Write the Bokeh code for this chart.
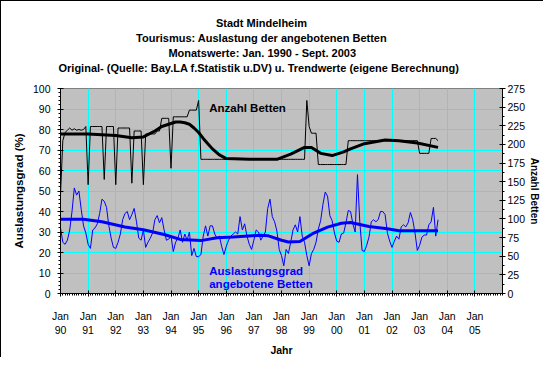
from bokeh.plotting import figure
from bokeh.models import Range1d, LinearAxis, FixedTicker, Label, Title
from bokeh.embed import file_html
from bokeh.resources import INLINE

# ---- data (months since Jan 1990) ----
ausl_1990 = [32, 25, 24, 26, 31, 40, 51.5, 48, 50, 41, 33, 29.5]
ausl_1991 = [24, 22, 31, 32, 34, 39, 46, 45, 42, 33, 27, 22.5]
ausl_1992 = [22, 25, 29, 36, 39, 40, 36, 38.5, 41.5, 35, 27, 26]
ausl_1993 = [31, 22.5, 25, 27, 29.5, 36, 38, 34.5, 37, 31, 26, 26.5]
ausl_1994 = [28, 20.5, 25, 27, 31, 25, 29, 26, 30, 18.5, 22, 18]
ausl_1995 = [18, 19, 28, 33, 28, 33, 33, 29, 27, 28, 23, 19]
ausl_1996 = [23, 26, 28, 29, 30, 29, 37.5, 31, 34, 28, 24, 21.5]
ausl_1997 = [26, 31, 30, 26, 28, 30, 41.5, 46, 37.5, 35, 30.5, 21.5]
ausl_1998 = [18.5, 13.5, 21.5, 19.5, 25, 31, 33.5, 30, 37.5, 28, 25, 18.5]
ausl_1999 = [13.5, 19.5, 21.5, 25, 31.5, 35.5, 43.5, 49.5, 47.5, 38, 35.5, 29.5]
ausl_2000 = [25.5, 25, 29, 29.5, 34.5, 40.5, 40, 34, 30, 58, 35, 21]
ausl_2001 = [20.5, 23.5, 27.5, 35, 36, 35, 36, 40, 40, 38.5, 29.5, 25.5]
ausl_2002 = [22.5, 25.5, 28, 26.5, 32.5, 33.5, 32.5, 34.5, 39.5, 36, 29.5, 21]
ausl_2003 = [23.5, 27.5, 28.5, 28.5, 33.5, 35, 42, 28, 36]

betten_1990 = [133, 205, 216, 219, 222, 219, 221, 219, 220, 219, 220, 224]
betten_1991 = [146, 224, 224, 224, 224, 224, 224, 153, 224, 224, 224, 224]
betten_1992 = [146, 222, 222, 222, 222, 222, 222, 148, 218, 218, 218, 218]
betten_1993 = [146, 214, 214, 214, 214, 214, 218, 218, 235, 235, 235, 235]
betten_1994 = [168, 237, 237, 237, 237, 237, 237, 237, 246, 246, 246, 246]
betten_1995 = [259, 180, 180, 180, 180, 180, 180, 180, 180, 180, 180, 180]
betten_1996 = [180, 180, 180, 180, 180, 180, 180, 180, 180, 180, 180, 180]
betten_1997 = [180, 180, 180, 180, 180, 180, 180, 180, 180, 180, 180, 180]
betten_1998 = [180, 180, 180, 180, 180, 180, 180, 180, 180, 180, 180, 259]
betten_1999 = [224, 215, 215, 215, 173, 173, 173, 173, 173, 173, 173, 173]
betten_2000 = [173, 173, 173, 173, 173, 205, 205, 205, 205, 205, 205, 205]
betten_2001 = [205, 205, 205, 205, 205, 205, 205, 205, 205, 205, 205, 205]
betten_2002 = [205, 205, 205, 205, 205, 205, 205, 205, 205, 205, 205, 205]
betten_2003 = [188, 188, 188, 188, 188, 208, 208, 208, 205]

ausl_trend_month = [0, 10, 18, 28, 36, 45, 52, 61, 68, 75, 87, 90, 96, 99, 104,
                    110, 116, 122, 126, 134, 142, 147, 164]
ausl_trend_value = [36.2, 36.2, 35, 32.4, 31.1, 28.8, 26.4, 25.8, 27.2, 27.6, 28.4,
                    28.2, 26, 25.1, 25.4, 29.5, 32.4, 34.3, 34.6, 32.7, 31.6, 30.6, 30.6]

betten_trend_month = [0, 12, 24, 31, 36, 41, 44, 47, 50, 52, 54, 56, 58, 60, 62, 64,
                      66, 69, 72, 82, 94, 100, 106, 109, 113, 118, 123, 126, 132,
                      141, 147, 155, 164]
betten_trend_value = [214, 214, 212, 209, 210, 218, 224, 227, 230, 230, 229, 227, 222,
                      216, 208, 201, 194, 186, 181, 180, 180, 187, 196, 196, 188, 185,
                      190, 194, 201, 206, 205, 202, 196]

year_labels = ["90", "91", "92", "93", "94", "95", "96", "97", "98", "99",
               "00", "01", "02", "03", "04", "05"]

title_lines = ["Stadt Mindelheim",
               "Tourismus: Auslastung der angebotenen Betten",
               "Monatswerte: Jan. 1990 - Sept. 2003",
               "Original- (Quelle: Bay.LA f.Statistik u.DV) u. Trendwerte (eigene Berechnung)"]
title_offsets = [155.5, 75.6, 107.9, -2]

ausl = (ausl_1990 + ausl_1991 + ausl_1992 + ausl_1993 + ausl_1994 + ausl_1995 +
        ausl_1996 + ausl_1997 + ausl_1998 + ausl_1999 + ausl_2000 + ausl_2001 +
        ausl_2002 + ausl_2003)
betten = (betten_1990 + betten_1991 + betten_1992 + betten_1993 + betten_1994 +
          betten_1995 + betten_1996 + betten_1997 + betten_1998 + betten_1999 +
          betten_2000 + betten_2001 + betten_2002 + betten_2003)
months = list(range(len(ausl)))

FONT = "Liberation Sans"

p = figure(width=543, height=357, output_backend="svg", toolbar_location=None,
           x_range=Range1d(0, 192), y_range=Range1d(0, 100),
           min_border_left=59, min_border_right=42, min_border_top=87,
           min_border_bottom=58)
p.styles = {"border-top": "1px solid black", "border-left": "1px solid black"}
p.background_fill_color = "#C0C0C0"
p.border_fill_color = "white"
p.outline_line_color = "#808080"
p.extra_y_ranges = {"betten": Range1d(0, 275)}

# titles (first added sits closest to the plot)
p.add_layout(Title(text=" ", standoff=0.45, text_font=FONT, text_font_style="bold",
                   text_font_size="11px"), "above")
for txt, off in reversed(list(zip(title_lines, title_offsets))):
    p.add_layout(Title(text=txt, align="left", offset=off, standoff=1.2,
                       text_font=FONT, text_font_style="bold",
                       text_font_size="11px", text_color="black"), "above")

# x axis
xt = FixedTicker(ticks=[12 * i for i in range(16)], minor_ticks=list(range(0, 193)))
xa = p.xaxis[0]
xa.ticker = xt
xa.major_label_overrides = {12 * i: "Jan\n" + year_labels[i] for i in range(16)}
xa.axis_label = "Jahr"
xa.axis_label_standoff = 5

# left axis
yt = FixedTicker(ticks=list(range(0, 101, 10)), minor_ticks=list(range(0, 101, 2)))
ya = p.yaxis[0]
ya.ticker = yt
ya.axis_label = "Auslastungsgrad (%)"
ya.axis_label_standoff = 5

# right axis
ra = LinearAxis(y_range_name="betten",
                ticker=FixedTicker(ticks=list(range(0, 276, 25)),
                                   minor_ticks=[12.5 * i for i in range(23)]))
p.add_layout(ra, "right")
p.add_layout(Title(text="Anzahl Betten", align="center", standoff=0,
                   text_font=FONT, text_font_style="bold", text_font_size="10px",
                   text_color="black"), "right")

for ax in (xa, ya, ra):
    ax.axis_line_color = "black"
    ax.major_tick_line_color = "black"
    ax.minor_tick_line_color = "black"
    ax.major_tick_in = 3
    ax.major_tick_out = 3
    ax.minor_tick_in = 0
    ax.minor_tick_out = 2
    ax.major_label_text_font = FONT
    ax.major_label_text_font_size = "10.5px"
    ax.major_label_text_color = "black"
    ax.axis_label_text_font = FONT
    ax.axis_label_text_font_style = "bold"
    ax.axis_label_text_font_size = "10.5px"
    ax.axis_label_text_color = "black"
ya.axis_label_text_font_size = "11.5px"
xa.major_label_standoff = 13
xa.major_label_text_line_height = 1.2
ya.major_label_standoff = 7
ra.major_label_standoff = 2

# grids
p.xgrid.ticker = FixedTicker(ticks=[12 * i for i in range(1, 16)])
p.ygrid.ticker = FixedTicker(ticks=list(range(10, 100, 10)))
p.xgrid.grid_line_color = "#00FFFF"
p.ygrid.grid_line_color = "#00FFFF"

# series
p.line(months, betten, y_range_name="betten", line_color="black", line_width=1)
p.line(betten_trend_month, betten_trend_value, y_range_name="betten",
       line_color="black", line_width=3)
p.line(months, ausl, line_color="#0000FF", line_width=1)
p.line(ausl_trend_month, ausl_trend_value, line_color="#0000FF", line_width=3)

def lab(x, y, text, color="black"):
    p.add_layout(Label(x=x, y=y, text=text, text_align="left", text_baseline="middle",
                       text_font=FONT, text_font_style="bold", text_font_size="11.5px",
                       text_color=color))

lab(64.6, 90.7, "Anzahl Betten")
lab(64.6, 11.1, "Auslastungsgrad", "#0000FF")
lab(64.6, 4.4, "angebotene Betten", "#0000FF")

open("out.html", "w").write(file_html(p, INLINE))
